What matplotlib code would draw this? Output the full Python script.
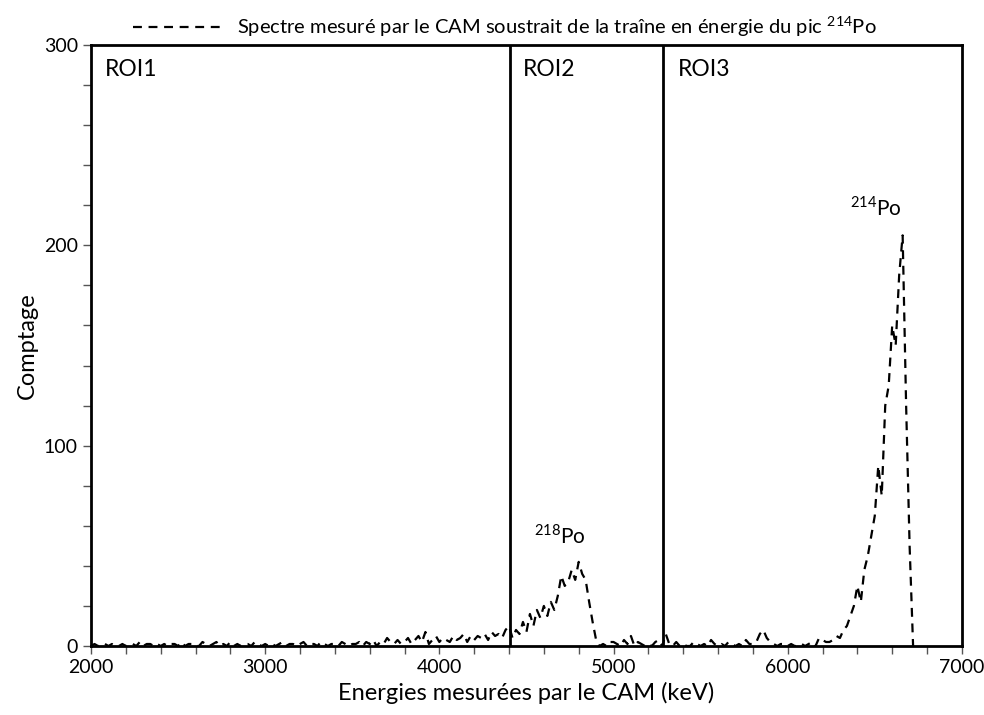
import numpy as np
import matplotlib
matplotlib.use("Agg")
import matplotlib.pyplot as plt
from matplotlib.ticker import MultipleLocator

plt.rcParams['font.family'] = ['Lato', 'DejaVu Sans']
plt.rcParams['mathtext.fontset'] = 'custom'
plt.rcParams['mathtext.rm'] = 'Lato'

# spectre, canaux de 20 keV a partir de 2000 keV
e_start = 2000
e_step = 20
counts = [
    0, 1, 0, 0, 1, 0, 1, 0, 0, 1,
    0, 1, 1, 0, 2, 0, 1, 1, 0, 1,
    0, 1, 0, 1, 1, 0, 2, 0, 1, 1,
    0, 0, 2, 1, 0, 1, 2, 0, 1, 0,
    2, 0, 1, 0, 1, 1, 0, 2, 1, 0,
    1, 0, 1, 0, 1, 2, 0, 1, 1, 0,
    1, 2, 0, 1, 1, 0, 2, 1, 0, 1,
    1, 0, 2, 1, 0, 1, 1, 2, 0, 2,
    1, 3, 0, 2, 1, 4, 2, 1, 3, 1,
    2, 4, 1, 3, 5, 2, 7, 1, 3, 5,
    2, 4, 3, 2, 5, 3, 4, 6, 2, 5,
    3, 5, 4, 6, 3, 7, 5, 6, 4, 8,
    10, 4, 8, 6, 12, 7, 16, 10, 18, 14,
    20, 15, 22, 18, 25, 35, 30, 32, 38, 33,
    42, 36, 33, 22, 12, 3, 0, 1, 0, 2,
    2, 1, 0, 3, 1, 5, 0, 2, 1, 0,
    1, 0, 2, 3, 0, 6, 1, 0, 2, 0,
    1, 0, 0, 2, 1, 0, 1, 0, 3, 1,
    0, 1, 0, 2, 1, 0, 1, 0, 3, 1,
    1, 2, 6, 8, 4, 2, 1, 0, 1, 1,
    0, 1, 0, 0, 1, 0, 1, 2, 0, 4,
    3, 2, 2, 3, 5, 4, 8, 10, 15, 20,
    30, 22, 38, 45, 55, 65, 90, 75, 120, 130,
    160, 150, 185, 205, 120, 50, 0,
]
energies = e_start + e_step * np.arange(len(counts))

roi_bounds = [4405, 5285]
roi_labels = ['ROI1', 'ROI2', 'ROI3']
roi_label_x = [2080, 4480, 5370]
peak_labels = [r'$^{218}$Po', r'$^{214}$Po']
peak_pos = [(4690, 55), (6505, 219)]

fig = plt.figure(figsize=(9.84, 7.15), dpi=100)
ax = fig.add_axes([0.0925, 0.0965, 0.885, 0.8405])

ax.plot(energies, counts, color='black', lw=1.6, linestyle=(0, (4, 3)),
        label=r'Spectre mesuré par le CAM soustrait de la traîne en énergie du pic $^{214}$Po')

for xb in roi_bounds:
    ax.axvline(xb, color='black', lw=2)
for lab, xl in zip(roi_labels, roi_label_x):
    ax.text(xl, 288, lab, fontsize=16.5, ha='left', va='center')
for lab, (xp, yp) in zip(peak_labels, peak_pos):
    ax.text(xp, yp, lab, fontsize=15, ha='center', va='center')

ax.set_xlim(2000, 7000)
ax.set_ylim(0, 300)
ax.xaxis.set_major_locator(MultipleLocator(1000))
ax.xaxis.set_minor_locator(MultipleLocator(200))
ax.yaxis.set_major_locator(MultipleLocator(100))
ax.yaxis.set_minor_locator(MultipleLocator(20))
ax.tick_params(which='both', direction='out', length=6, width=1, color='#555555', labelsize=14)

for sp in ax.spines.values():
    sp.set_linewidth(2)

ax.set_xlabel('Energies mesurées par le CAM (keV)', fontsize=17)
ax.set_ylabel('Comptage', fontsize=17)

fig.legend(loc='upper center', bbox_to_anchor=(0.513, 1.005), frameon=False,
           handlelength=4.4, fontsize=14.5)

plt.savefig('out.png', dpi=100)
